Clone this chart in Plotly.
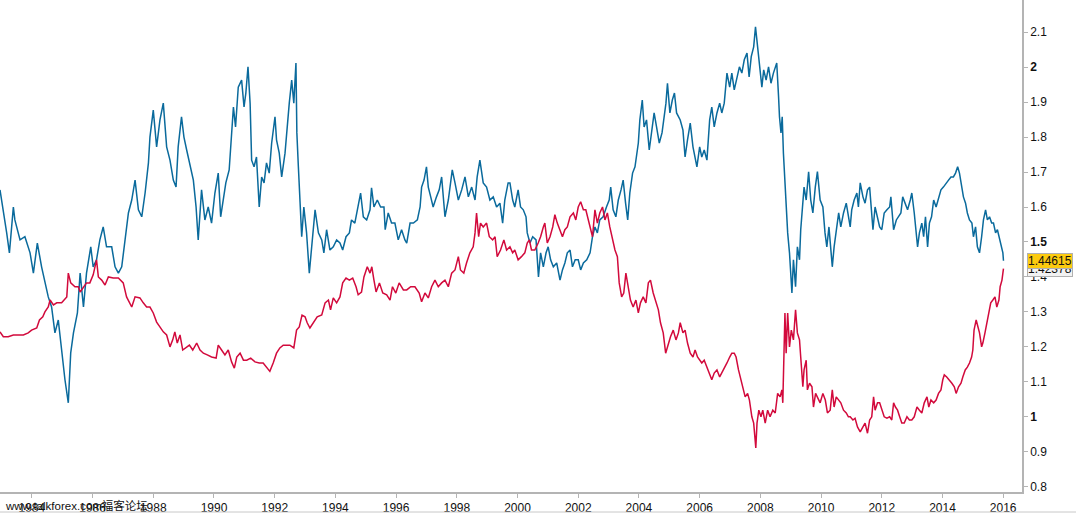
import plotly.graph_objects as go

# Blue series (year, value)
blue_series = [
    (1982.95, 1.649), (1983.06, 1.592), (1983.17, 1.526), (1983.26, 1.469), (1983.39, 1.600),
    (1983.44, 1.563), (1983.61, 1.506), (1983.77, 1.515), (1983.94, 1.469), (1984.05, 1.411),
    (1984.18, 1.497), (1984.32, 1.429), (1984.43, 1.383), (1984.54, 1.343), (1984.65, 1.314),
    (1984.76, 1.240), (1984.87, 1.277), (1984.98, 1.183), (1985.09, 1.106), (1985.20, 1.040),
    (1985.28, 1.183), (1985.37, 1.240), (1985.50, 1.297), (1985.59, 1.411), (1985.70, 1.314),
    (1985.80, 1.411), (1985.94, 1.486), (1986.02, 1.429), (1986.13, 1.449), (1986.24, 1.506),
    (1986.35, 1.543), (1986.46, 1.486), (1986.63, 1.486), (1986.74, 1.429), (1986.85, 1.411),
    (1986.96, 1.429), (1987.07, 1.506), (1987.18, 1.583), (1987.29, 1.620), (1987.40, 1.677),
    (1987.51, 1.592), (1987.62, 1.572), (1987.73, 1.640), (1987.84, 1.726), (1987.89, 1.800),
    (1988.00, 1.877), (1988.11, 1.772), (1988.22, 1.849), (1988.33, 1.897), (1988.44, 1.772),
    (1988.55, 1.734), (1988.66, 1.677), (1988.75, 1.657), (1988.82, 1.772), (1988.93, 1.858),
    (1989.01, 1.800), (1989.10, 1.763), (1989.21, 1.715), (1989.32, 1.677), (1989.41, 1.600),
    (1989.48, 1.506), (1989.59, 1.649), (1989.70, 1.563), (1989.81, 1.600), (1989.92, 1.554),
    (1990.03, 1.640), (1990.14, 1.697), (1990.22, 1.572), (1990.31, 1.629), (1990.39, 1.669),
    (1990.50, 1.706), (1990.56, 1.783), (1990.64, 1.886), (1990.71, 1.829), (1990.80, 1.943),
    (1990.91, 1.963), (1990.99, 1.886), (1991.05, 1.926), (1991.12, 2.001), (1991.19, 1.897),
    (1991.24, 1.734), (1991.32, 1.715), (1991.40, 1.743), (1991.49, 1.600), (1991.57, 1.686),
    (1991.65, 1.669), (1991.73, 1.726), (1991.82, 1.697), (1991.90, 1.783), (1992.01, 1.858),
    (1992.06, 1.792), (1992.15, 1.754), (1992.23, 1.686), (1992.34, 1.754), (1992.42, 1.840),
    (1992.48, 1.897), (1992.56, 1.963), (1992.63, 1.897), (1992.70, 2.012), (1992.73, 1.812),
    (1992.78, 1.715), (1992.83, 1.600), (1992.89, 1.515), (1992.96, 1.600), (1993.05, 1.526),
    (1993.14, 1.411), (1993.22, 1.486), (1993.33, 1.592), (1993.44, 1.526), (1993.55, 1.506),
    (1993.62, 1.469), (1993.71, 1.535), (1993.82, 1.477), (1993.93, 1.486), (1994.04, 1.506),
    (1994.15, 1.497), (1994.24, 1.477), (1994.35, 1.515), (1994.46, 1.526), (1994.53, 1.563),
    (1994.64, 1.554), (1994.75, 1.600), (1994.83, 1.640), (1994.92, 1.572), (1995.03, 1.563),
    (1995.14, 1.592), (1995.19, 1.655), (1995.27, 1.600), (1995.38, 1.620), (1995.49, 1.600),
    (1995.60, 1.600), (1995.64, 1.535), (1995.74, 1.583), (1995.85, 1.554), (1995.96, 1.554),
    (1996.07, 1.506), (1996.18, 1.535), (1996.29, 1.506), (1996.35, 1.497), (1996.46, 1.554),
    (1996.57, 1.554), (1996.70, 1.563), (1996.79, 1.600), (1996.84, 1.657), (1996.92, 1.677),
    (1997.00, 1.715), (1997.06, 1.657), (1997.14, 1.629), (1997.22, 1.600), (1997.33, 1.629),
    (1997.42, 1.649), (1997.50, 1.686), (1997.61, 1.572), (1997.72, 1.620), (1997.85, 1.706),
    (1997.94, 1.669), (1998.05, 1.620), (1998.16, 1.649), (1998.27, 1.686), (1998.38, 1.629),
    (1998.49, 1.657), (1998.60, 1.620), (1998.67, 1.686), (1998.76, 1.734), (1998.87, 1.669),
    (1998.98, 1.657), (1999.09, 1.620), (1999.20, 1.629), (1999.31, 1.600), (1999.42, 1.611),
    (1999.51, 1.554), (1999.58, 1.620), (1999.69, 1.669),
    (1999.75, 1.669), (1999.84, 1.620), (1999.91, 1.600), (2000.02, 1.649), (2000.10, 1.600),
    (2000.19, 1.592), (2000.28, 1.572), (2000.32, 1.526), (2000.41, 1.497), (2000.50, 1.515),
    (2000.61, 1.506), (2000.69, 1.400), (2000.76, 1.469), (2000.85, 1.429), (2000.94, 1.469),
    (2001.01, 1.486), (2001.09, 1.449), (2001.18, 1.429), (2001.29, 1.440), (2001.40, 1.391),
    (2001.48, 1.420), (2001.56, 1.440), (2001.64, 1.469), (2001.73, 1.477), (2001.81, 1.429),
    (2001.90, 1.449), (2002.00, 1.449), (2002.08, 1.420), (2002.17, 1.440), (2002.28, 1.449),
    (2002.39, 1.469), (2002.47, 1.515), (2002.55, 1.543), (2002.63, 1.526), (2002.71, 1.563),
    (2002.82, 1.572), (2002.93, 1.600), (2003.02, 1.620), (2003.07, 1.657), (2003.15, 1.592),
    (2003.24, 1.572), (2003.32, 1.620), (2003.41, 1.649), (2003.48, 1.677), (2003.56, 1.611),
    (2003.63, 1.563), (2003.70, 1.640), (2003.79, 1.697), (2003.87, 1.715), (2003.92, 1.743),
    (2003.98, 1.783), (2004.03, 1.849), (2004.11, 1.906), (2004.17, 1.829), (2004.25, 1.849),
    (2004.34, 1.763), (2004.42, 1.812), (2004.50, 1.869), (2004.58, 1.829), (2004.67, 1.783),
    (2004.76, 1.812), (2004.82, 1.849), (2004.89, 1.897), (2004.94, 1.954), (2005.02, 1.869),
    (2005.10, 1.906), (2005.17, 1.926), (2005.24, 1.869),
    (2005.36, 1.849), (2005.45, 1.820), (2005.52, 1.743), (2005.60, 1.792), (2005.69, 1.840),
    (2005.78, 1.772), (2005.85, 1.734), (2005.91, 1.715), (2006.00, 1.772), (2006.07, 1.743),
    (2006.15, 1.763), (2006.24, 1.734), (2006.33, 1.849), (2006.40, 1.886), (2006.48, 1.829),
    (2006.57, 1.869), (2006.66, 1.897), (2006.73, 1.869), (2006.81, 1.897), (2006.90, 1.983),
    (2006.99, 1.943), (2007.06, 1.983), (2007.14, 1.935), (2007.23, 1.972), (2007.31, 2.001),
    (2007.39, 1.983), (2007.47, 2.021), (2007.56, 2.040), (2007.63, 1.972), (2007.70, 2.030),
    (2007.78, 2.058), (2007.84, 2.115), (2007.91, 2.058), (2007.97, 2.001), (2008.05, 1.943),
    (2008.11, 1.992), (2008.19, 1.963), (2008.27, 2.001), (2008.35, 1.954), (2008.43, 1.983),
    (2008.54, 2.012), (2008.60, 1.915), (2008.63, 1.858), (2008.68, 1.812), (2008.72, 1.858),
    (2008.76, 1.754), (2008.81, 1.677), (2008.85, 1.583), (2008.90, 1.526), (2008.96, 1.469),
    (2009.04, 1.354), (2009.09, 1.449), (2009.16, 1.372), (2009.22, 1.486), (2009.29, 1.449),
    (2009.33, 1.535), (2009.38, 1.600), (2009.44, 1.657), (2009.51, 1.620), (2009.59, 1.701),
    (2009.66, 1.620), (2009.73, 1.583), (2009.81, 1.657), (2009.88, 1.701), (2009.97, 1.620),
    (2010.06, 1.600), (2010.13, 1.526), (2010.19, 1.486), (2010.26, 1.543), (2010.32, 1.469),
    (2010.37, 1.429), (2010.43, 1.486), (2010.50, 1.526), (2010.58, 1.583), (2010.65, 1.543),
    (2010.74, 1.583), (2010.83, 1.611), (2010.90, 1.572),
    (2010.96, 1.543), (2011.01, 1.592), (2011.09, 1.620), (2011.18, 1.640), (2011.23, 1.600),
    (2011.29, 1.669), (2011.38, 1.629), (2011.45, 1.611), (2011.53, 1.649), (2011.60, 1.657),
    (2011.64, 1.611), (2011.71, 1.535), (2011.78, 1.600), (2011.86, 1.572), (2011.93, 1.543),
    (2012.00, 1.535), (2012.08, 1.583), (2012.17, 1.592), (2012.26, 1.600), (2012.30, 1.629),
    (2012.39, 1.535), (2012.48, 1.563), (2012.55, 1.572), (2012.63, 1.583), (2012.69, 1.629),
    (2012.77, 1.611), (2012.85, 1.592), (2012.94, 1.620), (2012.99, 1.640), (2013.07, 1.583),
    (2013.13, 1.515), (2013.18, 1.486), (2013.24, 1.526), (2013.32, 1.554), (2013.38, 1.515),
    (2013.44, 1.572), (2013.51, 1.486), (2013.57, 1.554), (2013.64, 1.572), (2013.71, 1.620),
    (2013.79, 1.600), (2013.87, 1.629), (2013.95, 1.649), (2014.03, 1.657), (2014.12, 1.669),
    (2014.20, 1.677), (2014.28, 1.686), (2014.36, 1.686), (2014.43, 1.697), (2014.50, 1.715),
    (2014.56, 1.697), (2014.64, 1.649), (2014.69, 1.629), (2014.76, 1.611), (2014.82, 1.583),
    (2014.89, 1.563), (2014.97, 1.554), (2015.02, 1.515), (2015.09, 1.543), (2015.15, 1.486),
    (2015.22, 1.469), (2015.29, 1.515), (2015.35, 1.563), (2015.42, 1.592), (2015.48, 1.563),
    (2015.55, 1.572), (2015.62, 1.554), (2015.68, 1.554), (2015.75, 1.526), (2015.81, 1.535),
    (2015.88, 1.506), (2015.94, 1.486), (2015.99, 1.469), (2016.01, 1.44615),
]

# Red series (year, value)
red_series = [
    (1982.95, 1.243), (1983.06, 1.229), (1983.22, 1.229), (1983.39, 1.234), (1983.55, 1.234),
    (1983.72, 1.234), (1983.88, 1.240), (1983.99, 1.248), (1984.16, 1.254), (1984.25, 1.277),
    (1984.36, 1.286), (1984.43, 1.300), (1984.54, 1.314), (1984.60, 1.334), (1984.71, 1.320),
    (1984.82, 1.326), (1984.98, 1.326), (1985.15, 1.343), (1985.20, 1.411), (1985.28, 1.383),
    (1985.42, 1.372), (1985.53, 1.372), (1985.59, 1.357), (1985.70, 1.372), (1985.80, 1.383),
    (1985.91, 1.383), (1986.02, 1.406), (1986.13, 1.449), (1986.19, 1.400), (1986.30, 1.391),
    (1986.41, 1.377), (1986.52, 1.400), (1986.68, 1.397), (1986.85, 1.397), (1987.01, 1.383),
    (1987.12, 1.343), (1987.29, 1.314), (1987.40, 1.343), (1987.56, 1.340), (1987.67, 1.326),
    (1987.78, 1.314), (1987.89, 1.314), (1988.00, 1.297), (1988.11, 1.271), (1988.22, 1.257),
    (1988.33, 1.243), (1988.44, 1.234),
    (1988.55, 1.200), (1988.64, 1.220), (1988.71, 1.243), (1988.79, 1.211), (1988.88, 1.234),
    (1988.97, 1.191), (1989.08, 1.197), (1989.19, 1.205), (1989.30, 1.191), (1989.43, 1.211),
    (1989.54, 1.191), (1989.65, 1.182), (1989.78, 1.177), (1989.92, 1.171), (1990.07, 1.168),
    (1990.14, 1.205), (1990.25, 1.191), (1990.36, 1.177), (1990.47, 1.191), (1990.58, 1.157),
    (1990.67, 1.139), (1990.75, 1.171), (1990.86, 1.182), (1990.97, 1.162), (1991.08, 1.162),
    (1991.21, 1.168), (1991.35, 1.157), (1991.49, 1.154), (1991.62, 1.154), (1991.76, 1.139),
    (1991.84, 1.130), (1991.95, 1.154), (1992.06, 1.182), (1992.17, 1.197), (1992.28, 1.205),
    (1992.39, 1.205), (1992.50, 1.205), (1992.63, 1.197), (1992.72, 1.248), (1992.81, 1.257),
    (1992.90, 1.291), (1993.00, 1.286), (1993.07, 1.269), (1993.16, 1.254), (1993.27, 1.269),
    (1993.40, 1.286), (1993.55, 1.291), (1993.66, 1.326), (1993.77, 1.334), (1993.84, 1.306),
    (1993.93, 1.340), (1994.04, 1.326),
    (1994.15, 1.343), (1994.24, 1.383), (1994.35, 1.397), (1994.46, 1.391), (1994.57, 1.397),
    (1994.68, 1.372), (1994.75, 1.349), (1994.86, 1.357), (1994.94, 1.400), (1995.05, 1.429),
    (1995.14, 1.411), (1995.20, 1.429), (1995.27, 1.391), (1995.34, 1.357), (1995.45, 1.383),
    (1995.56, 1.354), (1995.69, 1.349), (1995.80, 1.334), (1995.88, 1.372), (1995.99, 1.354),
    (1996.10, 1.383), (1996.24, 1.363), (1996.35, 1.363), (1996.48, 1.372), (1996.62, 1.372),
    (1996.76, 1.354), (1996.84, 1.329), (1996.95, 1.354), (1997.06, 1.340), (1997.17, 1.372),
    (1997.28, 1.391), (1997.39, 1.372), (1997.50, 1.383), (1997.61, 1.391), (1997.72, 1.372),
    (1997.83, 1.411), (1997.94, 1.420), (1998.05, 1.458), (1998.12, 1.420), (1998.23, 1.411),
    (1998.32, 1.440), (1998.43, 1.469), (1998.54, 1.486), (1998.60, 1.526), (1998.65, 1.583),
    (1998.72, 1.515), (1998.78, 1.554), (1998.87, 1.543), (1998.98, 1.554), (1999.07, 1.515),
    (1999.18, 1.506), (1999.26, 1.515), (1999.33, 1.458), (1999.44, 1.477), (1999.55, 1.506),
    (1999.64, 1.477),
    (1999.75, 1.486), (1999.84, 1.469), (1999.91, 1.477), (2000.02, 1.449), (2000.13, 1.458),
    (2000.24, 1.469), (2000.32, 1.497), (2000.39, 1.506), (2000.46, 1.477), (2000.57, 1.477),
    (2000.68, 1.497), (2000.76, 1.515), (2000.85, 1.543), (2000.90, 1.554), (2000.98, 1.497),
    (2001.07, 1.515), (2001.16, 1.543), (2001.23, 1.578), (2001.31, 1.554), (2001.40, 1.535),
    (2001.48, 1.515), (2001.56, 1.535), (2001.64, 1.543), (2001.73, 1.572), (2001.84, 1.583),
    (2001.92, 1.563), (2002.00, 1.600), (2002.08, 1.615), (2002.17, 1.592), (2002.25, 1.592),
    (2002.33, 1.563), (2002.41, 1.535), (2002.47, 1.515), (2002.55, 1.592), (2002.63, 1.554),
    (2002.71, 1.583), (2002.80, 1.600), (2002.88, 1.563), (2002.96, 1.583), (2003.04, 1.543),
    (2003.13, 1.506), (2003.21, 1.477), (2003.29, 1.458), (2003.35, 1.383), (2003.43, 1.343),
    (2003.50, 1.354), (2003.57, 1.411), (2003.65, 1.372), (2003.72, 1.334), (2003.81, 1.314),
    (2003.90, 1.334), (2003.98, 1.297), (2004.05, 1.326), (2004.14, 1.343), (2004.23, 1.326),
    (2004.31, 1.383), (2004.38, 1.391), (2004.47, 1.354), (2004.56, 1.326), (2004.64, 1.306),
    (2004.71, 1.269), (2004.80, 1.240), (2004.88, 1.182), (2004.97, 1.211), (2005.04, 1.229),
    (2005.13, 1.248), (2005.22, 1.220), (2005.30, 1.240),
    (2005.36, 1.269), (2005.45, 1.240), (2005.52, 1.248), (2005.60, 1.211), (2005.69, 1.182),
    (2005.78, 1.171), (2005.85, 1.191), (2005.93, 1.171), (2006.00, 1.162), (2006.07, 1.154),
    (2006.15, 1.162), (2006.24, 1.142), (2006.33, 1.125), (2006.40, 1.106), (2006.48, 1.125),
    (2006.57, 1.134), (2006.66, 1.114), (2006.73, 1.125), (2006.81, 1.142), (2006.90, 1.154),
    (2006.99, 1.171), (2007.06, 1.182), (2007.14, 1.182), (2007.20, 1.171), (2007.28, 1.134),
    (2007.36, 1.106), (2007.42, 1.077), (2007.50, 1.057), (2007.58, 1.067), (2007.64, 1.048),
    (2007.72, 1.000), (2007.78, 0.982), (2007.82, 0.942), (2007.85, 0.911), (2007.89, 0.982),
    (2007.95, 1.019), (2008.02, 1.000), (2008.08, 1.019), (2008.16, 0.982), (2008.24, 1.019),
    (2008.32, 1.000), (2008.41, 1.019), (2008.49, 1.011), (2008.57, 1.067), (2008.65, 1.057),
    (2008.71, 1.077), (2008.74, 1.040), (2008.77, 1.211), (2008.81, 1.297), (2008.85, 1.182),
    (2008.90, 1.297), (2008.96, 1.200), (2009.02, 1.248), (2009.09, 1.220), (2009.16, 1.306),
    (2009.22, 1.240), (2009.29, 1.220), (2009.33, 1.171), (2009.40, 1.086), (2009.44, 1.134),
    (2009.51, 1.162), (2009.55, 1.077), (2009.62, 1.096), (2009.70, 1.086), (2009.75, 1.028),
    (2009.82, 1.067), (2009.88, 1.057), (2009.97, 1.040), (2010.06, 1.067), (2010.14, 1.048),
    (2010.21, 1.011), (2010.30, 1.019), (2010.37, 1.077), (2010.43, 1.028), (2010.50, 1.057),
    (2010.58, 1.048), (2010.65, 1.040), (2010.74, 1.019), (2010.83, 1.011), (2010.90, 1.000),
    (2010.96, 1.000), (2011.05, 0.991), (2011.12, 0.996), (2011.20, 0.971), (2011.29, 0.957),
    (2011.38, 0.971), (2011.45, 0.982), (2011.53, 0.953), (2011.60, 0.991), (2011.67, 1.000),
    (2011.73, 1.057), (2011.78, 1.019), (2011.86, 1.040), (2011.93, 1.040), (2012.00, 1.019),
    (2012.08, 1.000), (2012.17, 0.996), (2012.26, 1.000), (2012.33, 0.991), (2012.39, 1.040),
    (2012.45, 1.028), (2012.52, 1.019), (2012.59, 1.000), (2012.66, 0.982), (2012.74, 0.982),
    (2012.83, 1.000), (2012.91, 0.991), (2012.99, 0.991), (2013.07, 1.000), (2013.16, 1.028),
    (2013.24, 1.019), (2013.32, 1.011), (2013.40, 1.040), (2013.49, 1.057), (2013.55, 1.028),
    (2013.62, 1.048), (2013.71, 1.040), (2013.79, 1.048), (2013.87, 1.067), (2013.95, 1.077),
    (2014.01, 1.106), (2014.06, 1.120), (2014.14, 1.114), (2014.23, 1.106), (2014.31, 1.096),
    (2014.39, 1.086), (2014.45, 1.067), (2014.53, 1.086), (2014.61, 1.096), (2014.67, 1.114),
    (2014.75, 1.134), (2014.82, 1.142), (2014.89, 1.154), (2014.96, 1.171), (2015.00, 1.191),
    (2015.04, 1.248), (2015.11, 1.277), (2015.17, 1.257), (2015.22, 1.240), (2015.29, 1.200),
    (2015.33, 1.211), (2015.40, 1.240), (2015.46, 1.269), (2015.53, 1.297), (2015.59, 1.326),
    (2015.66, 1.334), (2015.73, 1.343), (2015.79, 1.314), (2015.86, 1.334), (2015.90, 1.372),
    (2015.96, 1.391), (2015.99, 1.411), (2016.01, 1.42378),
]

x_tick_years = [1984, 1986, 1988, 1990, 1992, 1994, 1996, 1998, 2000, 2002,
                2004, 2006, 2008, 2010, 2012, 2014, 2016]
y_tick_vals = [0.8, 0.9, 1.0, 1.1, 1.2, 1.3, 1.4, 1.5, 1.6, 1.7, 1.8, 1.9, 2.0, 2.1]
y_tick_text = ["0.8", "0.9", "<b>1</b>", "1.1", "1.2", "1.3", "1.4", "<b>1.5</b>",
               "1.6", "1.7", "1.8", "1.9", "<b>2</b>", "2.1"]
blue_last_label = "1.44615"
red_last_label = "1.42378"
watermark = "www.talkforex.com福客论坛"

BLUE = "#0a6a9c"
RED = "#d20a3c"
AXIS = "#b4b4b4"
FONT = "Liberation Sans, Arial, Noto Sans CJK SC, sans-serif"

fig = go.Figure()
fig.add_trace(go.Scatter(x=[p[0] for p in blue_series], y=[p[1] for p in blue_series],
                         mode="lines", line=dict(color=BLUE, width=1.5), hoverinfo="skip"))
fig.add_trace(go.Scatter(x=[p[0] for p in red_series], y=[p[1] for p in red_series],
                         mode="lines", line=dict(color=RED, width=1.5), hoverinfo="skip"))

W, H = 1076, 516
ml, mr, mt, mb = 0, 54, 0, 24
pw, ph = W - ml - mr, H - mt - mb

fig.update_layout(
    width=W, height=H,
    margin=dict(l=ml, r=mr, t=mt, b=mb, pad=0),
    paper_bgcolor="white", plot_bgcolor="white",
    showlegend=False,
    font=dict(family=FONT, size=12, color="#111111"),
    xaxis=dict(range=[1982.95, 2016.62], tickmode="array", tickvals=x_tick_years,
               ticktext=[str(y) for y in x_tick_years],
               ticks="outside", ticklen=4, tickcolor=AXIS, tickwidth=1,
               showline=True, linecolor=AXIS, linewidth=1.5,
               showgrid=False, zeroline=False,
               tickfont=dict(family=FONT, size=12, color="#111111")),
    yaxis=dict(side="right", range=[0.785, 2.192], tickmode="array",
               tickvals=y_tick_vals, ticktext=y_tick_text,
               ticks="outside", ticklen=4, tickcolor=AXIS, tickwidth=1,
               showline=True, linecolor=AXIS, linewidth=1.5,
               showgrid=False, zeroline=False,
               tickfont=dict(family=FONT, size=12, color="#111111")),
)

# bottom border line below tick labels
fig.add_shape(type="line", xref="paper", yref="paper",
              x0=0, x1=W / pw, y0=-(512 - ph) / ph, y1=-(512 - ph) / ph,
              line=dict(color="#c8c8c8", width=1))

# last-value labels on the right axis
fig.add_annotation(xref="paper", yref="y", x=1027 / pw, y=red_series[-1][1],
                   text=red_last_label, showarrow=False, xanchor="left", yanchor="middle",
                   font=dict(family=FONT, size=12, color="#111111"),
                   bgcolor="#f2f2f2", bordercolor="#b0b0b0", borderwidth=1, borderpad=0)
fig.add_annotation(xref="paper", yref="y", x=1027 / pw, y=blue_series[-1][1],
                   text=blue_last_label, showarrow=False, xanchor="left", yanchor="middle",
                   font=dict(family=FONT, size=12, color="#111111"),
                   bgcolor="#fccb10", bordercolor="#b0b0b0", borderwidth=1, borderpad=0)

# watermark text over the first tick labels
fig.add_annotation(xref="paper", yref="paper", x=3 / pw, y=-(505 - ph) / ph,
                   text=watermark, showarrow=False, xanchor="left", yanchor="middle",
                   font=dict(family=FONT, size=11.5, color="#111111"))

fig.write_html("out.html", config={"displayModeBar": False},
               post_script="document.body.style.margin='0px';document.body.style.overflow='hidden';")
